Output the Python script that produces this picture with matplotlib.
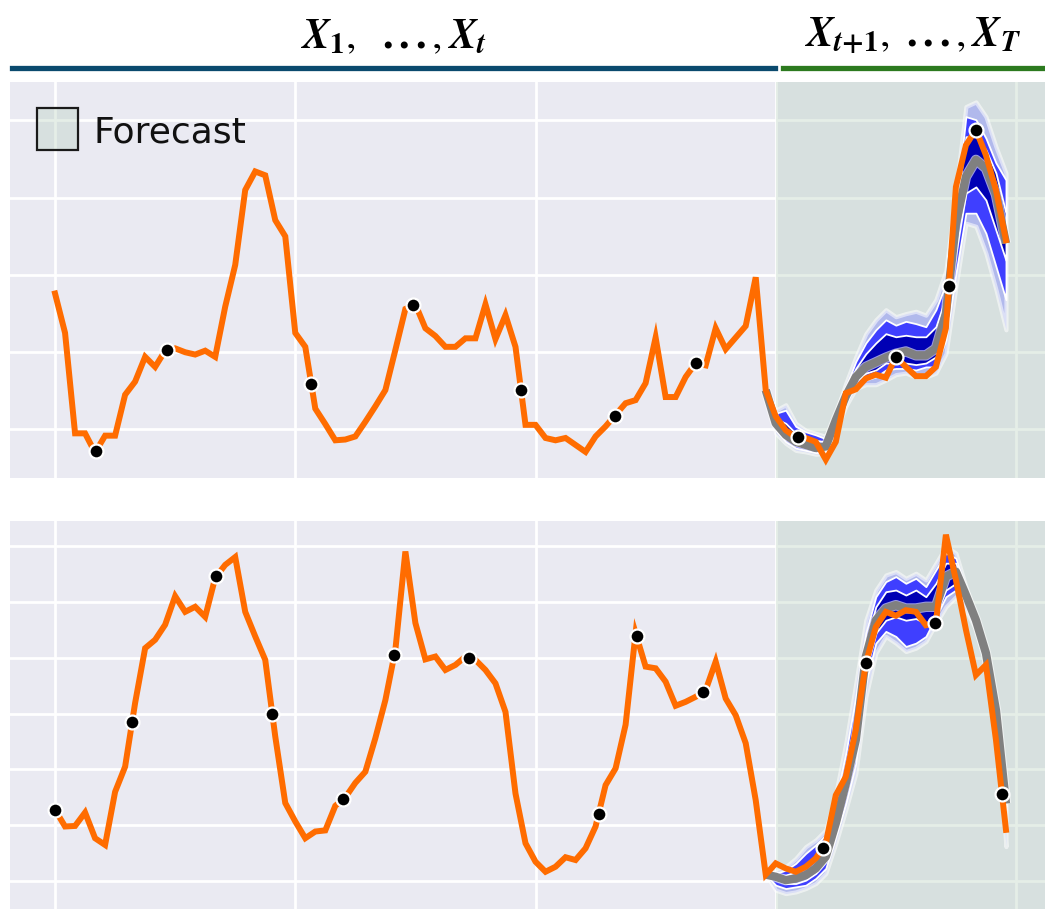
import numpy as np
import matplotlib
matplotlib.use("Agg")
import matplotlib.pyplot as plt
from matplotlib.patches import Rectangle
from matplotlib.lines import Line2D
import matplotlib.patheffects as pe

# ---------------- data ----------------
top_series = [1.76, 1.25, -0.05, -0.05, -0.30, -0.08, -0.08, 0.45, 0.62, 0.94,
              0.81, 1.02, 1.05, 1.00, 0.97, 1.02, 0.94, 1.59, 2.13, 3.10,
              3.34, 3.29, 2.71, 2.50, 1.25, 1.07, 0.27, 0.07, -0.14, -0.13,
              -0.09, 0.10, 0.30, 0.51, 1.03, 1.56, 1.62, 1.31, 1.21, 1.07,
              1.07, 1.18, 1.18, 1.62, 1.17, 1.48, 1.07, 0.06, 0.06, -0.11,
              -0.14, -0.11, -0.20, -0.29, -0.09, 0.04, 0.19, 0.34, 0.38, 0.60,
              1.19, 0.42, 0.42, 0.68, 0.86, 0.83, 1.31, 1.04, 1.19, 1.34,
              1.97, 0.51, 0.17, -0.01, -0.10, -0.11, -0.16, -0.39, -0.16, 0.47,
              0.52, 0.66, 0.71, 0.67, 0.94, 0.81, 0.69, 0.69, 0.81, 1.31,
              3.14, 3.68, 3.88, 3.55, 3.10, 2.45]
top_dots = [4.1, 11.2, 25.6, 35.8, 46.55, 55.9, 64.0, 74.2, 84.0, 89.3, 92.0]

top_light_hi = [0.51, 0.25, 0.32, 0.08, -0.01, -0.05, -0.09, 0.21, 0.60, 0.94, 1.24, 1.42, 1.55,
                1.46, 1.50, 1.53, 1.48, 1.68, 2.06, 3.10, 4.18, 4.24, 4.05, 3.66, 3.32]
top_blue_hi = [0.51, 0.21, 0.25, 0.04, -0.03, -0.07, -0.12, 0.19, 0.55, 0.88, 1.12, 1.29, 1.42,
               1.35, 1.40, 1.37, 1.33, 1.55, 1.89, 2.88, 4.05, 4.01, 3.77, 3.45, 3.23]
top_dark_hi = [0.51, 0.14, 0.08, -0.05, -0.09, -0.14, -0.16, 0.14, 0.49, 0.79, 0.98, 1.12, 1.24,
               1.20, 1.22, 1.20, 1.20, 1.33, 1.72, 2.80, 3.79, 3.79, 3.62, 3.32, 2.80]
top_median = [0.51, 0.08, -0.07, -0.16, -0.20, -0.24, -0.22, 0.12, 0.43, 0.68, 0.81, 0.87, 0.93,
              0.98, 1.01, 0.96, 0.96, 1.05, 1.50, 2.67, 3.27, 3.49, 3.38, 3.04, 2.41]
top_dark_lo = [0.51, 0.04, -0.12, -0.20, -0.24, -0.27, -0.27, 0.06, 0.38, 0.62, 0.73, 0.77, 0.86,
               0.86, 0.86, 0.84, 0.86, 0.94, 1.37, 2.28, 3.06, 3.14, 2.97, 2.58, 2.19]
top_blue_lo = [0.51, -0.01, -0.16, -0.24, -0.27, -0.30, -0.29, 0.01, 0.34, 0.58, 0.64, 0.68, 0.77,
               0.79, 0.79, 0.77, 0.81, 0.81, 1.16, 2.02, 2.80, 2.80, 2.54, 2.11, 1.68]
top_light_lo = [0.51, -0.05, -0.18, -0.27, -0.29, -0.32, -0.31, -0.03, 0.30, 0.53, 0.58, 0.58, 0.64,
                0.71, 0.73, 0.68, 0.68, 0.73, 0.98, 1.85, 2.67, 2.63, 2.28, 1.81, 1.29]

bot_series = [1.28, 0.98, 0.99, 1.23, 0.77, 0.65, 1.60, 2.05, 3.19, 4.17,
              4.32, 4.59, 5.10, 4.82, 4.91, 4.73, 5.43, 5.66, 5.80, 4.82,
              4.38, 3.96, 2.59, 1.40, 1.07, 0.77, 0.89, 0.91, 1.35, 1.50,
              1.76, 1.96, 2.56, 3.24, 4.14, 5.90, 4.62, 3.97, 4.02, 3.78,
              3.87, 4.02, 3.96, 3.78, 3.54, 3.03, 1.57, 0.68, 0.35, 0.17,
              0.26, 0.43, 0.38, 0.59, 0.98, 1.72, 2.02, 2.80, 4.44, 3.84,
              3.81, 3.57, 3.14, 3.21, 3.30, 3.42, 3.93, 3.27, 2.97, 2.47,
              1.45, 0.12, 0.32, 0.23, 0.17, 0.26, 0.41, 0.68, 1.54, 1.87,
              2.71, 3.90, 4.55, 4.82, 4.75, 4.85, 4.82, 4.58, 4.62, 6.20,
              5.39, 4.50, 3.69, 3.87, 2.53, 0.92]
bot_dots = [0.0, 7.7, 16.1, 21.7, 28.8, 33.9, 41.4, 54.3, 58.1, 64.7, 76.7, 81.0, 87.9, 94.6]

bot_light_hi = [0.12, 0.17, 0.26, 0.41, 0.62, 0.74, 0.92, 1.57, 2.47, 3.54, 4.67, 5.21, 5.48,
                5.54, 5.42, 5.51, 5.39, 5.69, 5.99, 5.87, 5.27, 4.73, 4.14, 3.12, 1.45]
bot_blue_hi = [0.12, 0.14, 0.20, 0.32, 0.50, 0.65, 0.83, 1.45, 2.29, 3.30, 4.44, 5.09, 5.36,
               5.45, 5.33, 5.42, 5.27, 5.57, 5.87, 5.78, 5.21, 4.70, 4.11, 3.11, 1.44]
bot_dark_hi = [0.12, 0.11, 0.11, 0.17, 0.29, 0.44, 0.62, 1.28, 2.05, 2.95, 4.26, 4.91, 5.18,
               5.21, 5.12, 5.21, 5.09, 5.33, 5.69, 5.69, 5.15, 4.69, 4.09, 3.08, 1.42]
bot_median = [0.12, 0.08, 0.02, 0.05, 0.11, 0.23, 0.44, 1.04, 1.75, 2.53, 4.02, 4.67, 4.88,
              4.94, 4.88, 4.88, 4.91, 4.91, 5.45, 5.54, 5.12, 4.67, 4.08, 3.06, 1.39]
bot_dark_lo = [0.12, 0.02, -0.04, -0.04, 0.02, 0.14, 0.35, 0.92, 1.57, 2.29, 3.78, 4.44, 4.67,
               4.73, 4.67, 4.70, 4.61, 4.79, 5.21, 5.33, 5.03, 4.61, 4.02, 3.03, 1.34]
bot_blue_lo = [0.12, -0.07, -0.13, -0.10, -0.07, 0.05, 0.23, 0.80, 1.39, 2.11, 3.54, 4.26, 4.47,
               4.38, 4.20, 4.26, 4.38, 4.73, 5.09, 5.21, 4.97, 4.56, 3.96, 2.99, 1.28]
bot_light_lo = [0.12, -0.16, -0.22, -0.19, -0.13, -0.04, 0.14, 0.68, 1.28, 1.93, 3.30, 4.08, 4.38,
                4.26, 4.11, 4.17, 4.29, 4.61, 4.91, 5.09, 4.85, 4.50, 3.90, 2.95, 0.62]

context_len = 72
fc_start = 71

# ---------------- style ----------------
ORANGE = "#ff6c00"
GRAY = "#808080"
LIGHT = "#b1b9ec"
BLUE = "#3f3fff"
DARK = "#0000b4"
AX_BG = "#eaeaf2"
SHADE = (0.72, 0.815, 0.75, 0.36)

plt.rcParams['mathtext.fontset'] = 'stix'

W, H = 1045, 909
fig = plt.figure(figsize=(W / 100, H / 100), dpi=100)


def px_axes(left, top, right, bottom):
    return fig.add_axes([left / W, 1 - bottom / H, (right - left) / W, (bottom - top) / H])


ax_top = px_axes(10, 82, 1045, 478)
ax_bot = px_axes(10, 521, 1045, 909)

steps = np.arange(len(top_series))
fsteps = np.arange(fc_start, fc_start + len(top_median))


def draw_panel(ax, series, dots, bands, med, ylim, yticks):
    ax.set_facecolor(AX_BG)
    for s in ax.spines.values():
        s.set_visible(False)
    ax.set_xticks([0, 24, 48, 72, 96])
    ax.set_yticks(yticks)
    ax.tick_params(length=0, labelbottom=False, labelleft=False)
    ax.grid(True, color="white", lw=2.0)
    ax.set_axisbelow(True)
    ax.set_xlim(-4.5, 98.9)
    ax.set_ylim(*ylim)
    ax.axvspan(context_len, 98.9, color=SHADE, lw=0, zorder=1)
    (lhi, bhi, dhi, dlo, blo, llo) = bands
    ax.fill_between(fsteps, llo, lhi, color=LIGHT, lw=3.0, edgecolor=(1, 1, 1, 0.55), zorder=2)
    ax.fill_between(fsteps, blo, bhi, color=BLUE, lw=1.3, edgecolor="white", zorder=2.1)
    ax.fill_between(fsteps, dlo, dhi, color=DARK, lw=1.3, edgecolor="white", zorder=2.2)
    ax.plot(fsteps, med, color=GRAY, lw=6.0, solid_capstyle="butt", zorder=3,
            path_effects=[pe.withStroke(linewidth=7.5, foreground=(1, 1, 1, 0.6))])
    ax.plot(steps, series, color=ORANGE, lw=4.3, solid_joinstyle="miter", zorder=4)
    dy = np.interp(dots, steps, series)
    ax.plot(dots, dy, "o", ms=10, mfc="black", mec="white", mew=1.6, zorder=5, ls="none")


draw_panel(ax_top, top_series, top_dots,
           (top_light_hi, top_blue_hi, top_dark_hi, top_dark_lo, top_blue_lo, top_light_lo),
           top_median, (-0.628, 4.498), [0, 1, 2, 3, 4])
draw_panel(ax_bot, bot_series, bot_dots,
           (bot_light_hi, bot_blue_hi, bot_dark_hi, bot_dark_lo, bot_blue_lo, bot_light_lo),
           bot_median, (-0.496, 6.445), [0, 1, 2, 3, 4, 5, 6])

# legend-like key in the top panel
ax_top.add_patch(Rectangle((0.0261, 0.828), 0.0396, 0.1061, transform=ax_top.transAxes,
                           facecolor=SHADE, edgecolor="#1a1a1a", lw=1.6, zorder=6))
ax_top.text(0.0802, 0.846, "Forecast", transform=ax_top.transAxes, fontsize=26,
            color="#111111", va="baseline", ha="left", zorder=6)

# header
fig.add_artist(Line2D([12 / W, 775 / W], [1 - 68 / H, 1 - 68 / H], color="#0b4a6e", lw=3.8))
fig.add_artist(Line2D([783 / W, 1043 / W], [1 - 68 / H, 1 - 68 / H], color="#2c7a1f", lw=3.8))
fig.text(393 / W, 1 - 36 / H,
         r"$\mathbfit{X}_{\mathbf{1}},\ \ \mathbf{...},\mathbfit{X}_{\mathbfit{t}}$",
         fontsize=30, ha="center", va="center")
fig.text(913 / W, 1 - 36 / H,
         r"$\mathbfit{X}_{\mathbfit{t}\mathbf{+1}},\ \mathbf{...},\mathbfit{X}_{\mathbfit{T}}$",
         fontsize=30, ha="center", va="center")

fig.savefig("out.png", dpi=100, facecolor="white")
